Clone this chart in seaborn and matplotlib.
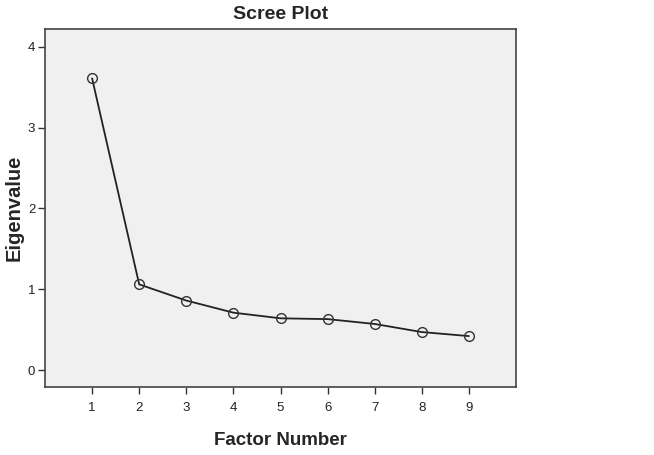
import numpy as np
import pandas as pd
import matplotlib
matplotlib.use("Agg")
import matplotlib.pyplot as plt
import seaborn as sns

factors = [1, 2, 3, 4, 5, 6, 7, 8, 9]
eigenvalues = [3.61, 1.06, 0.86, 0.71, 0.64, 0.63, 0.57, 0.47, 0.42]

df = pd.DataFrame({"Factor Number": factors, "Eigenvalue": eigenvalues})

sns.set_style("white")
plt.rcParams['font.family'] = ['Liberation Sans', 'DejaVu Sans']

fig = plt.figure(figsize=(6.54, 4.55), dpi=100)
ax = fig.add_axes([0.0688, 0.1495, 0.7202, 0.7865])
ax.set_facecolor("#f0f0f0")

sns.lineplot(data=df, x="Factor Number", y="Eigenvalue", ax=ax, color="#222222",
             linewidth=1.3, marker="o", markersize=7, markerfacecolor="none",
             markeredgecolor="#333333", markeredgewidth=1.0)

ax.set_xlim(0, 10)
ax.set_ylim(-0.21, 4.22)
ax.set_xticks(factors)
ax.set_yticks([0, 1, 2, 3, 4])
ax.tick_params(axis="both", direction="out", length=5, width=1, color="#333333",
               labelsize=9.5, labelcolor="#222222", bottom=True, left=True)
ax.tick_params(axis="x", pad=6)
ax.tick_params(axis="y", pad=2)
for s in ax.spines.values():
    s.set_color("#444444")
    s.set_linewidth(1.2)

ax.set_xlabel("Factor Number", fontsize=13.5, fontweight="bold", labelpad=13)
ax.set_ylabel("Eigenvalue", fontsize=14.5, fontweight="bold", labelpad=3)
ax.set_title("Scree Plot", fontsize=14, fontweight="bold", pad=7.5)

fig.savefig("out.png", dpi=100)
